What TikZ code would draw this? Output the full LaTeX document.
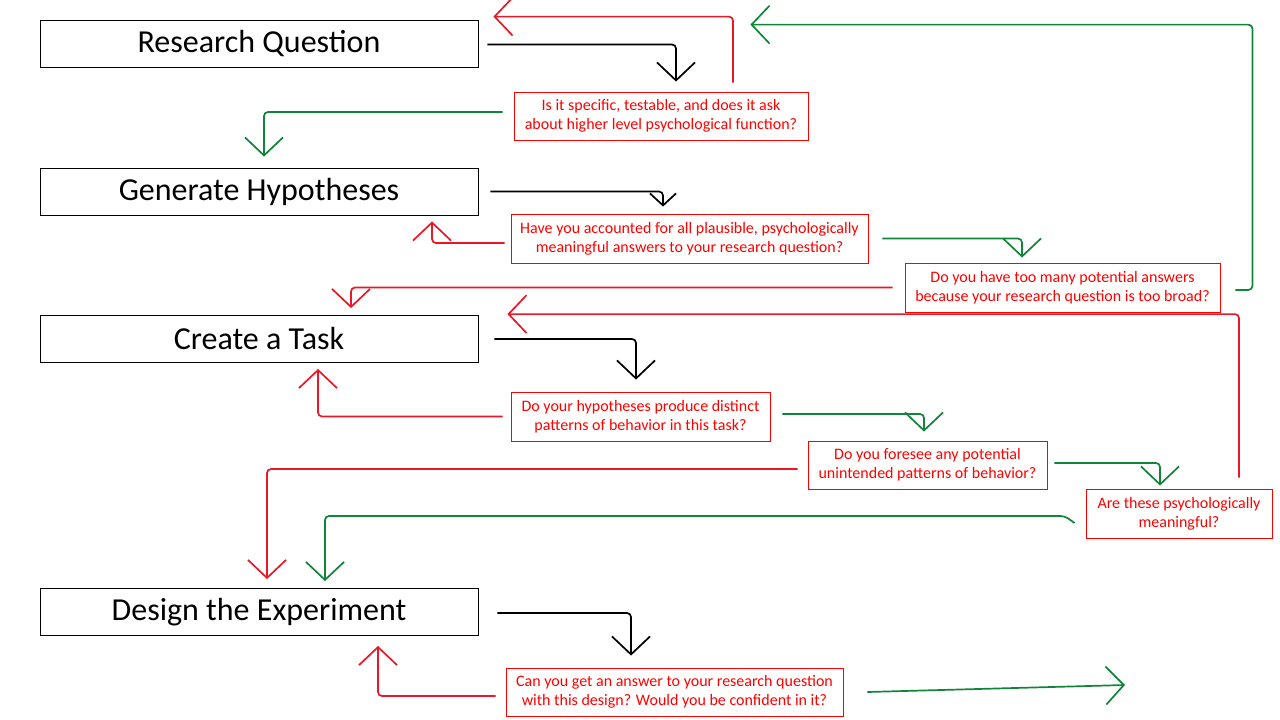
\documentclass[tikz,border=0pt]{standalone}
\usepackage{fontspec}
\setmainfont{Carlito}
\usetikzlibrary{arrows.meta, positioning, calc}
\definecolor{qred}{RGB}{255,0,0}
\definecolor{penred}{RGB}{232,24,40}
\definecolor{pengreen}{RGB}{16,132,56}

\begin{document}
\begin{tikzpicture}[x=1pt, y=-1pt,
  stage/.style={draw, line width=0.8pt, minimum width=438pt, minimum height=47pt, inner sep=0pt, font=\fontsize{32}{36}\selectfont},
  ask/.style={draw=qred, text=qred, line width=0.8pt, align=center, inner sep=0pt, font=\fontsize{16}{19}\selectfont},
  pen/.style={line width=1.7pt, rounded corners=4pt, -{Straight Barb[length=18pt,width=38pt]}},
  blk/.style={pen, black},
  rd/.style={pen, penred},
  gr/.style={pen, pengreen}]
\useasboundingbox (0,0) rectangle (1280,720);

\node[stage] (rq) at (259,43.5) {Research Question};
\node[stage] (gh) at (259,191.5) {Generate Hypotheses};
\node[stage] (ct) at (259,339) {Create a Task};
\node[stage] (de) at (259,612) {Design the Experiment};

\node[ask, minimum width=294pt, minimum height=48pt] (q1) at (661,116) {Is it specific, testable, and does it ask\\about higher level psychological function?};
\node[ask, minimum width=357pt, minimum height=49pt] (q2) at (689.5,238.5) {Have you accounted for all plausible, psychologically\\meaningful answers to your research question?};
\node[ask, minimum width=315pt, minimum height=49pt] (q3) at (1062.5,287.5) {Do you have too many potential answers\\because your research question is too broad?};
\node[ask, minimum width=259pt, minimum height=49pt] (q4) at (640.5,416.5) {Do your hypotheses produce distinct\\patterns of behavior in this task?};
\node[ask, minimum width=239pt, minimum height=48pt] (q5) at (927.5,465) {Do you foresee any potential\\unintended patterns of behavior?};
\node[ask, minimum width=186pt, minimum height=49pt] (q6) at (1179,513.5) {Are these psychologically\\meaningful?};
\node[ask, minimum width=337pt, minimum height=48pt] (q7) at (674.5,692) {Can you get an answer to your research question\\with this design? Would you be confident in it?};
\coordinate (out) at (1125,685);

\draw[blk] ([xshift=9pt,yshift=-1pt]rq.east) -| ([xshift=15pt,yshift=10pt]q1.north);
\draw[blk, -{Straight Barb[length=12pt,width=26pt]}] ([xshift=12pt]gh.east) -| ([xshift=-26.5pt,yshift=7pt]q2.north);
\draw[blk] ([xshift=16pt]ct.east) -| ([xshift=-4.5pt,yshift=12pt]q4.north);
\draw[blk] ([xshift=19pt,yshift=-1pt]de.east) -| ([xshift=-43.5pt,yshift=12pt]q7.north);

\draw[rd] ([xshift=72pt,yshift=9pt]q1.north) |- ([xshift=15pt,yshift=3pt]rq.north east);
\draw[rd] ([xshift=-6pt,yshift=-4.5pt]q2.west) -| ([xshift=173pt,yshift=-6pt]gh.south);
\draw[rd] ([xshift=-12pt]q3.west) -| ([xshift=92pt,yshift=7pt]ct.north);
\draw[rd] ([xshift=60pt,yshift=11pt]q6.north) |- ([xshift=29pt,yshift=1pt]ct.north east);
\draw[rd] ([xshift=-8pt]q4.west) -| ([xshift=59pt,yshift=-6pt]ct.south);
\draw[rd] ([xshift=-10pt,yshift=-4pt]q5.west) -| ([xshift=8pt,yshift=9pt]de.north);
\draw[rd] ([xshift=-10pt,yshift=-4pt]q7.west) -| ([xshift=119pt,yshift=-10pt]de.south);

\draw[gr] ([xshift=-11pt,yshift=4pt]q1.west) -| ([xshift=5pt,yshift=11pt]gh.north);
\draw[gr] ([xshift=15pt,yshift=-2.5pt]q3.east) -- ++(17,0) |- ([xshift=272pt,yshift=-5pt]rq.north east);
\draw[gr] ([xshift=14pt]q2.east) -| ([xshift=-40.5pt,yshift=5pt]q3.north);
\draw[gr] ([xshift=12pt,yshift=2.5pt]q4.east) -| ([xshift=-3.5pt,yshift=9pt]q5.north);
\draw[gr] ([xshift=7pt,yshift=2pt]q5.east) -| ([xshift=-19pt,yshift=3pt]q6.north);
\draw[gr] ([xshift=-11pt,yshift=-9.5pt]q6.west) -- ++(-10,-7) -| ([xshift=66pt,yshift=7pt]de.north);
\draw[gr] ([xshift=24pt]q7.east) -- (out);
\end{tikzpicture}
\end{document}
